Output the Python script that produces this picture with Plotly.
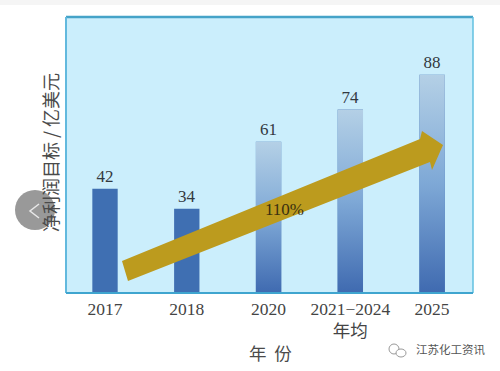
import plotly.graph_objects as go

categories = ["2017", "2018", "2020", "2021−2024<br>年均", "2025"]
positions = [0, 1, 2, 3, 4]
values = [42, 34, 61, 74, 88]
y_title = "净利润目标 / 亿美元"
x_title = "年  份"
growth_label = "110%"
watermark = "江苏化工资讯"

W, H = 500, 371
L, R, T, B = 66, 473, 17, 293
BAR_W = 0.31
XR = [-0.477, 4.5]
YR = [0, 111.3]
SERIF = "Liberation Serif, 'Noto Sans CJK SC', serif"
CJK = "'Noto Sans CJK SC', sans-serif"


def px(x):
    return (x - L) / (R - L)


def py(y):
    return (B - y) / (B - T)


def path(points):
    return "M " + " L ".join(f"{px(a):.4f},{py(b):.4f}" for a, b in points) + " Z"


fig = go.Figure()
fig.add_trace(go.Bar(
    x=positions, y=values, width=BAR_W,
    marker=dict(color="#3f6fb2", line=dict(width=0)),
    text=[str(v) for v in values], textposition="outside", cliponaxis=False,
    textfont=dict(family=SERIF, size=17, color="#33393f"),
    hoverinfo="skip", showlegend=False,
))
for p, v in list(zip(positions, values))[2:]:
    fig.add_trace(go.Scatter(
        x=[p - BAR_W / 2, p + BAR_W / 2, p + BAR_W / 2, p - BAR_W / 2, p - BAR_W / 2],
        y=[0, 0, v, v, 0], mode="lines", line=dict(width=0), fill="toself",
        fillgradient=dict(type="vertical",
                          colorscale=[[0, "#3f6ab0"], [0.5, "#7ea8d6"], [1, "#b4d0e6"]]),
        hoverinfo="skip", showlegend=False,
    ))

shapes = [
    # page strip
    dict(type="rect", xref="paper", yref="paper", x0=px(0), x1=px(W), y0=py(5), y1=py(0),
         fillcolor="#f5f5f5", line_width=0, layer="below"),
    # plot frame lines
    dict(type="line", xref="paper", yref="paper", x0=px(L), x1=px(R), y0=1, y1=1,
         line=dict(color="#45a3c8", width=2.5)),
    dict(type="line", xref="paper", yref="paper", x0=px(L), x1=px(L), y0=0, y1=1,
         line=dict(color="#62b9de", width=2)),
    dict(type="line", xref="paper", yref="paper", x0=px(R), x1=px(R), y0=0, y1=1,
         line=dict(color="#62c0e0", width=1.5)),
    dict(type="line", xref="paper", yref="paper", x0=px(L), x1=px(R), y0=0, y1=0,
         line=dict(color="#3fa5cf", width=2)),
    # growth arrow
    dict(type="path", xref="paper", yref="paper",
         path=path([(122, 261), (420, 139), (422, 131), (443, 145), (432, 170), (430, 162), (128, 281)]),
         fillcolor="#bc9b1e", line_width=0),
    # page back button
    dict(type="circle", xref="paper", yref="paper",
         x0=px(15), x1=px(55), y0=py(230), y1=py(190),
         fillcolor="rgba(135,135,135,0.85)", line_width=0, layer="below"),
    dict(type="path", xref="paper", yref="paper",
         path=f"M {px(39):.4f},{py(204):.4f} L {px(30):.4f},{py(211):.4f} L {px(39):.4f},{py(218):.4f}",
         line=dict(color="#e8e8e8", width=1.5)),
    # watermark icon
    dict(type="circle", xref="paper", yref="paper",
         x0=px(389), x1=px(399), y0=py(354), y1=py(344),
         line=dict(color="#999999", width=1), fillcolor="#ffffff"),
    dict(type="circle", xref="paper", yref="paper",
         x0=px(396), x1=px(406), y0=py(357), y1=py(349),
         line=dict(color="#999999", width=1), fillcolor="#ffffff"),
]


def note(text, x, y, font, angle=0):
    return dict(text=text, x=px(x), y=py(y), xref="paper", yref="paper", showarrow=False,
                xanchor="center", yanchor="middle", textangle=angle, font=font)


annotations = [
    note(growth_label, 284, 209, dict(family=SERIF, size=17, color="#3a3010")),
    note(y_title, 50, 153, dict(family=CJK, size=18, color="#4a4a4a"), angle=-90),
    note(x_title, 270, 352, dict(family=CJK, size=17.5, color="#4a4a4a")),
    note(watermark, 450, 349, dict(family=CJK, size=11.5, color="#555555")),
]

fig.update_layout(
    width=W, height=H, margin=dict(l=L, r=W - R, t=T, b=H - B),
    paper_bgcolor="#ffffff", plot_bgcolor="#cbeefc",
    shapes=shapes, annotations=annotations, showlegend=False,
    xaxis=dict(range=XR, tickvals=positions, ticktext=categories, showgrid=False, zeroline=False,
               ticks="", ticklabelstandoff=3,
               tickfont=dict(family=SERIF, size=17.5, color="#444444"), fixedrange=True),
    yaxis=dict(range=YR, showticklabels=False, showgrid=False, zeroline=False, ticks="", fixedrange=True),
)
fig.write_html("out.html", config=dict(displayModeBar=False),
               post_script="document.body.style.margin='0';")
